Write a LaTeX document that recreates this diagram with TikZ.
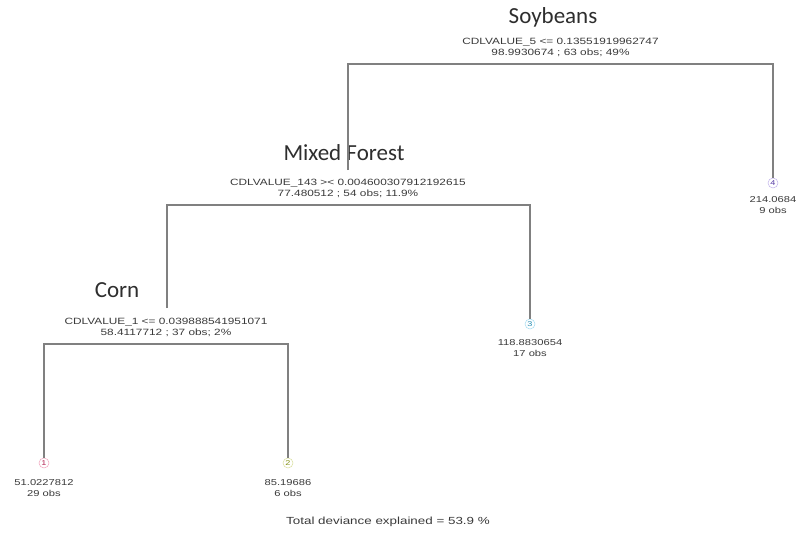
\documentclass[tikz,border=0pt]{standalone}
\usepackage{fontspec}
\setmainfont{Liberation Sans}
\newfontfamily\smallf[FakeStretch=1.3]{Liberation Sans}
\newfontfamily\titlef{Carlito}
\definecolor{edgec}{HTML}{808080}
\definecolor{txt}{HTML}{3A3A3A}
\definecolor{leafa}{HTML}{E0306A}
\definecolor{leafb}{HTML}{A8B820}
\definecolor{leafc}{HTML}{30B0E0}
\definecolor{leafd}{HTML}{7050D0}
\begin{document}
\begin{tikzpicture}[x=1pt,y=-1pt,
  edge/.style={draw=edgec,line width=1.4pt},
  titletxt/.style={inner sep=0pt,text=txt!80!black,font=\titlef\fontsize{23}{26}\selectfont},
  splittxt/.style={inner sep=0pt,align=center,text=txt,font=\smallf\fontsize{9.1}{11}\selectfont},
  leaftxt/.style={inner sep=0pt,align=center,text=txt,font=\smallf\fontsize{8.6}{11}\selectfont},
  leafid/.style={circle,draw=#1!45,line width=0.5pt,inner sep=0.6pt,minimum size=10pt,text=#1!80!black,font=\smallf\fontsize{7}{8}\selectfont},
  totaltxt/.style={inner sep=0pt,text=txt,font=\smallf\fontsize{10.3}{12}\selectfont}]
\useasboundingbox[fill=white] (0,0) rectangle (797,535);

% titles
\node[titletxt] (t1) at (553,17) {Soybeans};
\node[titletxt] (t2) at (344,153) {Mixed Forest};
\node[titletxt] (t3) at (117,290) {Corn};

% split labels
\node[splittxt] (s1) at (560.5,47.5) {CDLVALUE\_5 <= 0.13551919962747\\98.9930674 ; 63 obs; 49\%};
\node[splittxt] (s2) at (348,188.5) {CDLVALUE\_143 >< 0.004600307912192615\\77.480512 ; 54 obs; 11.9\%};
\node[splittxt] (s3) at (166,327.5) {CDLVALUE\_1 <= 0.039888541951071\\58.4117712 ; 37 obs; 2\%};

% tree coordinates
\coordinate (aL) at (348,64);
\coordinate (aR) at (773,64);
\coordinate (bL) at (167,205);
\coordinate (bR) at (530,205);
\coordinate (cL) at (44,344);
\coordinate (cR) at (288,344);
\coordinate (bEnd) at (348,170);
\coordinate (cEnd) at (167,308);

% leaves
\node[leafid=leafa] (l1) at (44,463) {1};
\node[leafid=leafb] (l2) at (288,463) {2};
\node[leafid=leafc] (l3) at (530,324) {3};
\node[leafid=leafd] (l4) at (773,183) {4};

\node[leaftxt] (v1) at (44,488.5) {51.0227812\\29 obs};
\node[leaftxt] (v2) at (288,488.5) {85.19686\\6 obs};
\node[leaftxt] (v3) at (530,348.5) {118.8830654\\17 obs};
\node[leaftxt] (v4) at (773,205.5) {214.0684\\9 obs};

% edges
\draw[edge] (bEnd) -- (aL) -- (aR) -- (l4.north);
\draw[edge] (cEnd) -- (bL) -- (bR) -- (l3.north);
\draw[edge] (l1.north) -- (cL) -- (cR) -- (l2.north);

\node[totaltxt] (tot) at (388,522) {Total deviance explained = 53.9 \%};
\end{tikzpicture}
\end{document}
